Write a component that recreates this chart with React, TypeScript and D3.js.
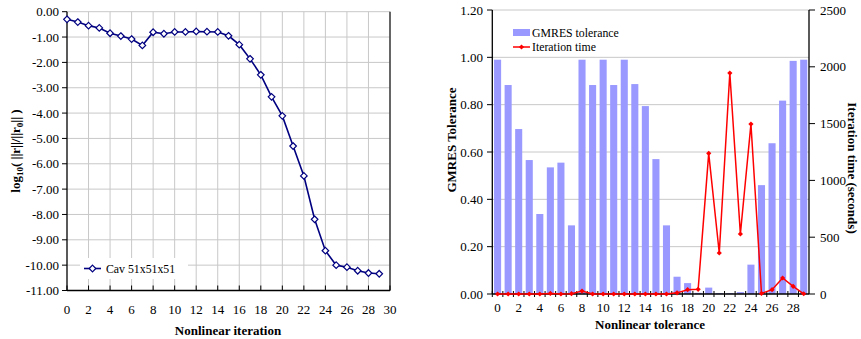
import React from 'react';
import * as d3 from 'd3';

// left chart: residual history
const iterations = d3.range(0, 30);
const logResidual = [
  -0.3, -0.41, -0.55, -0.64, -0.85, -0.96, -1.08, -1.33, -0.81, -0.87,
  -0.8, -0.8, -0.78, -0.79, -0.8, -0.95, -1.3, -1.86, -2.49, -3.36,
  -4.11, -5.3, -6.48, -8.19, -9.43, -10.0, -10.08, -10.22, -10.31, -10.34,
];
const leftYTicks = [0, -1, -2, -3, -4, -5, -6, -7, -8, -9, -10, -11];
const leftXTicks = d3.range(0, 31, 2);

// right chart: GMRES tolerance and iteration time
const categories = d3.range(0, 30);
const gmresTol = [
  0.99, 0.883, 0.697, 0.566, 0.338, 0.535, 0.555, 0.29, 0.99, 0.883,
  0.99, 0.883, 0.99, 0.887, 0.794, 0.57, 0.29, 0.073, 0.046, 0.005,
  0.027, 0.004, 0.004, 0.008, 0.124, 0.46, 0.637, 0.817, 0.985, 0.99,
];
const iterTime = [
  0, 0, 0, 0, 0, 5, 0, 3, 26, 0,
  0, 0, 0, 0, 0, 0, 0, 10, 38, 41,
  1238, 361, 1945, 528, 1496, 5, 38, 141, 68, 2,
];
const tolTicks = [0, 0.2, 0.4, 0.6, 0.8, 1.0, 1.2];
const timeTicks = [0, 500, 1000, 1500, 2000, 2500];
const catLabels = d3.range(0, 30, 2);

const font = '"Liberation Serif", "Times New Roman", serif';
const diamond = (r: number) => `M0,${-r}L${r},0L0,${r}L${-r},0Z`;

function LeftChart() {
  const x = d3.scaleLinear().domain([0, 30]).range([67, 390]);
  const y = d3.scaleLinear().domain([0, -11]).range([11.7, 290.5]);
  const line = d3.line<number>().x((_, i) => x(iterations[i])).y(d => y(d));
  return (
    <g>
      {leftXTicks.slice(1).map(t => (
        <line key={'vx' + t} x1={x(t)} x2={x(t)} y1={y(0)} y2={y(-11)} stroke="#c8c8c8" />
      ))}
      {leftYTicks.slice(0, -1).map(t => (
        <line key={'hy' + t} x1={x(0)} x2={x(30)} y1={y(t)} y2={y(t)} stroke="#c8c8c8" />
      ))}
      <line x1={x(30)} x2={x(30)} y1={y(0)} y2={y(-11)} stroke="#222" strokeWidth={1.3} />
      <line x1={x(0)} x2={x(0)} y1={y(0)} y2={y(-11)} stroke="#000" strokeWidth={1.3} />
      <line x1={x(0)} x2={x(30)} y1={y(-11)} y2={y(-11)} stroke="#000" strokeWidth={1.6} />
      {leftYTicks.map(t => (
        <g key={'yt' + t}>
          <line x1={x(0) - 5} x2={x(0)} y1={y(t)} y2={y(t)} stroke="#000" />
          <text x={x(0) - 8} y={y(t)} dy="0.35em" textAnchor="end" fontSize={13}>{t.toFixed(2)}</text>
        </g>
      ))}
      {leftXTicks.map(t => (
        <g key={'xt' + t}>
          <line x1={x(t)} x2={x(t)} y1={y(-11) - 5} y2={y(-11)} stroke="#000" />
          <text x={x(t)} y={314} textAnchor="middle" fontSize={13}>{t}</text>
        </g>
      ))}
      <path d={line(logResidual) || ''} fill="none" stroke="#000080" strokeWidth={1.6} />
      {logResidual.map((v, i) => (
        <path key={'m' + i} d={diamond(3.3)} transform={`translate(${x(iterations[i])},${y(v)})`}
          fill="#fff" stroke="#000080" strokeWidth={1.2} />
      ))}
      <rect x={80} y={258} width={108} height={21} fill="#fff" />
      <line x1={84} x2={101} y1={268.5} y2={268.5} stroke="#000080" strokeWidth={1.6} />
      <path d={diamond(3.3)} transform="translate(92.5,268.5)" fill="#fff" stroke="#000080" strokeWidth={1.2} />
      <text x={106} y={272.5} fontSize={11.8}>Cav 51x51x51</text>
      <text x={228} y={335} textAnchor="middle" fontSize={13} fontWeight="bold">Nonlinear iteration</text>
      <text transform="translate(20,151) rotate(-90)" textAnchor="middle" fontSize={13} fontWeight="bold">
        log<tspan fontSize={9} dy={3}>10</tspan><tspan dy={-3}>( ||r||/||r</tspan><tspan fontSize={9} dy={3}>0</tspan><tspan dy={-3}>|| )</tspan>
      </text>
    </g>
  );
}

function RightChart() {
  const x = d3.scaleBand<number>().domain(categories).range([492.3, 809]).paddingInner(0.33).paddingOuter(0.165);
  const xs = d3.scaleBand<number>().domain(categories).range([492.3, 809]);
  const y = d3.scaleLinear().domain([0, 1.2]).range([294, 10]);
  const y2 = d3.scaleLinear().domain([0, 2500]).range([294, 10]);
  const cx = (c: number) => (xs(c) || 0) + xs.bandwidth() / 2;
  const line = d3.line<number>().x((_, i) => cx(categories[i])).y(d => y2(d));
  return (
    <g>
      {tolTicks.slice(1).map(t => (
        <line key={'g' + t} x1={492.3} x2={809} y1={y(t)} y2={y(t)} stroke="#c8c8c8" />
      ))}
      {gmresTol.map((v, i) => (
        <rect key={'b' + i} x={x(categories[i])} width={x.bandwidth()} y={y(v)} height={y(0) - y(v)} fill="#9999ff" />
      ))}
      <line x1={492.3} x2={492.3} y1={10} y2={294} stroke="#000" strokeWidth={1.3} />
      <line x1={809} x2={809} y1={10} y2={294} stroke="#000" strokeWidth={1.3} />
      <line x1={492.3} x2={809} y1={294} y2={294} stroke="#000" strokeWidth={1.3} />
      {tolTicks.map(t => (
        <g key={'yt' + t}>
          <line x1={487} x2={492.3} y1={y(t)} y2={y(t)} stroke="#000" />
          <text x={483} y={y(t)} dy="0.35em" textAnchor="end" fontSize={13}>{t.toFixed(2)}</text>
        </g>
      ))}
      {timeTicks.map(t => (
        <g key={'y2' + t}>
          <line x1={809} x2={815} y1={y2(t)} y2={y2(t)} stroke="#000" />
          <text x={820} y={y2(t)} dy="0.35em" fontSize={13}>{t}</text>
        </g>
      ))}
      {categories.map(c => (
        <line key={'ct' + c} x1={xs(c)} x2={xs(c)} y1={291} y2={297} stroke="#000" />
      ))}
      {catLabels.map(c => (
        <text key={'cl' + c} x={cx(c)} y={312} textAnchor="middle" fontSize={13}>{c}</text>
      ))}
      <path d={line(iterTime) || ''} fill="none" stroke="#ff0000" strokeWidth={1.5} />
      {iterTime.map((v, i) => (
        <path key={'r' + i} d={diamond(2.6)} transform={`translate(${cx(categories[i])},${y2(v)})`} fill="#ff0000" />
      ))}
      <rect x={513} y={29} width={17} height={7} fill="#9999ff" />
      <text x={532} y={36.5} fontSize={11.8}>GMRES tolerance</text>
      <line x1={513} x2={530} y1={47} y2={47} stroke="#ff0000" strokeWidth={1.5} />
      <path d={diamond(2.6)} transform="translate(521.5,47)" fill="#ff0000" />
      <text x={532} y={51} fontSize={11.8}>Iteration time</text>
      <text x={650} y={329} textAnchor="middle" fontSize={13} fontWeight="bold">Nonlinear tolerance</text>
      <text transform="translate(456,140) rotate(-90)" textAnchor="middle" fontSize={13} fontWeight="bold">GMRES Tolerance</text>
      <text transform="translate(848,168) rotate(90)" textAnchor="middle" fontSize={13} fontWeight="bold">Iteration time (seconds)</text>
    </g>
  );
}

export default function App() {
  return (
    <svg width={861} height={339} style={{ position: 'absolute', left: 0, top: 0, fontFamily: font }}>
      <rect width={861} height={339} fill="#fff" />
      <LeftChart />
      <RightChart />
    </svg>
  );
}
